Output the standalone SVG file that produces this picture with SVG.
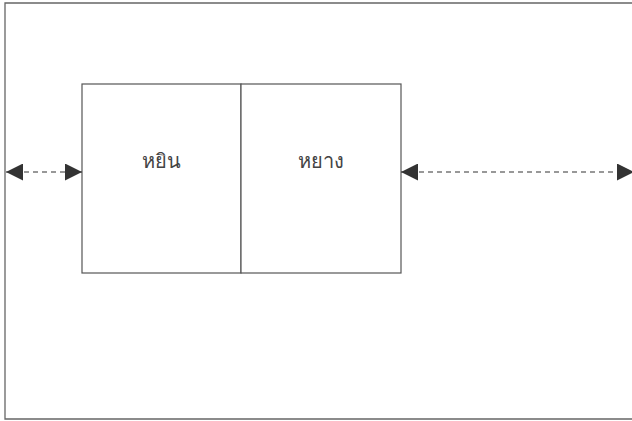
<svg xmlns="http://www.w3.org/2000/svg" width="632" height="421" viewBox="0 0 632 421">
<defs>
<marker id="ah" viewBox="0 0 10 10" refX="10" refY="5" markerWidth="17" markerHeight="17" markerUnits="userSpaceOnUse" orient="auto-start-reverse">
<path d="M0,0 L10,5 L0,10 z" fill="#333"/>
</marker>
<style>
.box{fill:#fff;stroke:#555;stroke-width:1.2}
.lbl{font-family:"Noto Sans","DejaVu Sans",sans-serif;font-size:20px;font-weight:300;fill:#444;text-anchor:middle}
.con{stroke:#333;stroke-width:1.2;stroke-dasharray:5,4;fill:none}
</style>
</defs>
<rect width="632" height="421" fill="#fff"/>
<path d="M640,3 H5 V419 H640" fill="none" stroke="#666" stroke-width="1.3"/>
<g id="yin">
<rect class="box" x="82" y="84" width="159" height="189"/>
<text class="lbl" x="161" y="168">หยิน</text>
</g>
<g id="yang">
<rect class="box" x="241" y="84" width="160" height="189"/>
<text class="lbl" x="321" y="168">หยาง</text>
</g>
<g id="connectors">
<line class="con" x1="6" y1="172" x2="82" y2="172" marker-start="url(#ah)" marker-end="url(#ah)"/>
<line class="con" x1="401" y1="172" x2="634" y2="172" marker-start="url(#ah)" marker-end="url(#ah)"/>
</g>
</svg>
